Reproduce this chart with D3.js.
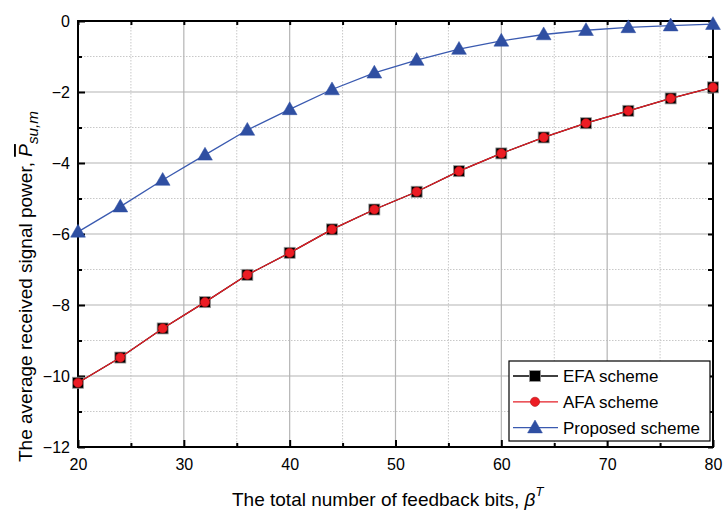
<!DOCTYPE html>
<html lang="en">
<head>
<meta charset="UTF-8">
<title>Average received signal power vs feedback bits</title>
<script src="https://d3js.org/d3.v7.min.js"></script>
<style>
  body { margin: 0; background: #fff; font-family: Arial, "Liberation Sans", sans-serif; }
  svg { display: block; }
  .tick text { font-size: 16px; fill: #000; }
  .axis-title { font-size: 19px; fill: #000; }
  .legend text { font-size: 17px; fill: #000; }
</style>
</head>
<body>
<svg id="chart" width="723" height="514"></svg>
<script>
// feedback bits
const bits = [20, 24, 28, 32, 36, 40, 44, 48, 52, 56, 60, 64, 68, 72, 76, 80];
// EFA and AFA give the same values
const efa = [-10.19, -9.48, -8.66, -7.92, -7.15, -6.53, -5.87, -5.31, -4.81, -4.23, -3.73, -3.28, -2.88, -2.53, -2.18, -1.87];
const afa = [-10.19, -9.48, -8.66, -7.92, -7.15, -6.53, -5.87, -5.31, -4.81, -4.23, -3.73, -3.28, -2.88, -2.53, -2.18, -1.87];
const proposed = [-5.94, -5.23, -4.48, -3.77, -3.07, -2.49, -1.93, -1.46, -1.10, -0.79, -0.56, -0.38, -0.26, -0.18, -0.13, -0.09];
const xTicks = [20, 30, 40, 50, 60, 70, 80];
const yTicks = [0, -2, -4, -6, -8, -10, -12];
const xMinor = [25, 35, 45, 55, 65, 75];
const yMinor = [-1, -3, -5, -7, -9, -11];

const margin = {top: 21, right: 10, bottom: 67, left: 78};
const width = 723 - margin.left - margin.right,
      height = 514 - margin.top - margin.bottom;

const svg = d3.select("#chart");
const g = svg.append("g").attr("transform", `translate(${margin.left},${margin.top})`);

const x = d3.scaleLinear().domain([20, 80]).range([0, width]);
const y = d3.scaleLinear().domain([-12, 0]).range([height, 0]);

// grid
g.selectAll(".gx-minor").data(xMinor).enter().append("line")
  .attr("x1", d => x(d)).attr("x2", d => x(d)).attr("y1", 0).attr("y2", height)
  .attr("stroke", "#c8c8c8").attr("stroke-dasharray", "1.5,1.5");
g.selectAll(".gy-minor").data(yMinor).enter().append("line")
  .attr("y1", d => y(d)).attr("y2", d => y(d)).attr("x1", 0).attr("x2", width)
  .attr("stroke", "#c8c8c8").attr("stroke-dasharray", "1.5,1.5");
g.selectAll(".gx").data(xTicks).enter().append("line")
  .attr("x1", d => x(d)).attr("x2", d => x(d)).attr("y1", 0).attr("y2", height)
  .attr("stroke", "#b4b4b4").attr("stroke-width", 1.2);
g.selectAll(".gy").data(yTicks).enter().append("line")
  .attr("y1", d => y(d)).attr("y2", d => y(d)).attr("x1", 0).attr("x2", width)
  .attr("stroke", "#b4b4b4").attr("stroke-width", 1.2);

// axes with inward ticks
function styleAxis(sel) {
  sel.select(".domain").remove();
  sel.selectAll(".tick line").attr("stroke", "#000").attr("stroke-width", 2);
}
const xb = g.append("g").attr("transform", `translate(0,${height})`)
  .call(d3.axisBottom(x).tickValues(xTicks).tickSizeInner(-7).tickSizeOuter(0).tickPadding(12));
styleAxis(xb);
const xbm = g.append("g").attr("transform", `translate(0,${height})`)
  .call(d3.axisBottom(x).tickValues(xMinor).tickSizeInner(-4).tickSizeOuter(0).tickFormat(""));
styleAxis(xbm);
const xt = g.append("g")
  .call(d3.axisTop(x).tickValues(xTicks.concat(xMinor)).tickSizeInner(-4).tickSizeOuter(0).tickFormat(""));
styleAxis(xt);

const yl = g.append("g")
  .call(d3.axisLeft(y).tickValues(yTicks).tickSizeInner(-7).tickSizeOuter(0).tickPadding(8));
styleAxis(yl);
const ylm = g.append("g")
  .call(d3.axisLeft(y).tickValues(yMinor).tickSizeInner(-4).tickSizeOuter(0).tickFormat(""));
styleAxis(ylm);
const yr = g.append("g").attr("transform", `translate(${width},0)`)
  .call(d3.axisRight(y).tickValues(yTicks.concat(yMinor)).tickSizeInner(-5).tickSizeOuter(0).tickFormat(""));
styleAxis(yr);

g.append("rect").attr("width", width).attr("height", height)
  .attr("fill", "none").attr("stroke", "#000").attr("stroke-width", 2);

// lines
const series = [
  {name: "EFA scheme", values: efa, color: "#000", marker: "square"},
  {name: "AFA scheme", values: afa, color: "#e41e26", marker: "circle"},
  {name: "Proposed scheme", values: proposed, color: "#3a5ab0", marker: "triangle"}
];
const line = d3.line().x((d, i) => x(bits[i])).y(d => y(d));

function drawMarker(sel, s, cx, cy) {
  if (s.marker === "square") {
    sel.append("rect").attr("x", cx - 5.5).attr("y", cy - 5.5).attr("width", 11).attr("height", 11)
      .attr("fill", "#000").attr("stroke", "#9a9a9a").attr("stroke-width", 0.8);
  } else if (s.marker === "circle") {
    sel.append("circle").attr("cx", cx).attr("cy", cy).attr("r", 4.6)
      .attr("fill", "#ec1c24").attr("stroke", "#b01010").attr("stroke-width", 0.6);
  } else {
    const sym = d3.symbol().type(d3.symbolTriangle).size(95);
    sel.append("path").attr("d", sym()).attr("transform", `translate(${cx},${cy + 1})`)
      .attr("fill", "#2f4fa2").attr("stroke", "#2f4fa2").attr("stroke-width", 0.5);
  }
}

const plot = g.append("g");
series.forEach(s => {
  plot.append("path").datum(s.values).attr("d", line)
    .attr("fill", "none").attr("stroke", s.color).attr("stroke-width", 1.3);
  s.values.forEach((v, i) => drawMarker(plot, s, x(bits[i]), y(v)));
});

// legend
const legend = g.append("g").attr("class", "legend").attr("transform", "translate(431,340)");
legend.append("rect").attr("width", 201).attr("height", 80)
  .attr("fill", "#fff").attr("stroke", "#000").attr("stroke-width", 1.2);
series.forEach((s, i) => {
  const ly = 15 + i * 25.8;
  legend.append("line").attr("x1", 4).attr("x2", 49).attr("y1", ly).attr("y2", ly)
    .attr("stroke", s.color).attr("stroke-width", 1.3);
  drawMarker(legend, s, 26, ly);
  legend.append("text").attr("x", 54).attr("y", ly + 6).text(s.name);
});

// scale a title's font so it spans the wanted length
function fitTitle(t, base, target) {
  const len = t.node().getComputedTextLength();
  const k = target / len;
  t.attr("font-size", (base * k) + "px");
  t.selectAll("tspan.small").each(function() {
    const s = d3.select(this);
    s.attr("font-size", (parseFloat(s.attr("data-fs")) * k) + "px")
     .attr("dy", parseFloat(s.attr("data-dy")) * k);
  });
}

// axis titles
const xTitle = svg.append("text").attr("class", "axis-title")
  .attr("x", 232).attr("y", 506).attr("font-size", "19px");
xTitle.append("tspan").text("The total number of feedback bits, ");
xTitle.append("tspan").attr("font-style", "italic").text("β");
xTitle.append("tspan").attr("class", "small").attr("font-style", "italic")
  .attr("data-fs", 12).attr("data-dy", -9).attr("font-size", "12px").attr("dy", -9).text("T");
fitTitle(xTitle, 19, 338);

const yTitle = svg.append("text").attr("class", "axis-title")
  .attr("transform", "translate(32,462) rotate(-90)").attr("font-size", "19px");
yTitle.append("tspan").text("The average received signal power, ");
yTitle.append("tspan").attr("font-style", "italic").attr("text-decoration", "overline").text("P");
yTitle.append("tspan").attr("class", "small").attr("font-style", "italic")
  .attr("data-fs", 13).attr("data-dy", 5).attr("font-size", "13px").attr("dy", 5).text("su,m");
fitTitle(yTitle, 19, 406);
</script>
</body>
</html>
